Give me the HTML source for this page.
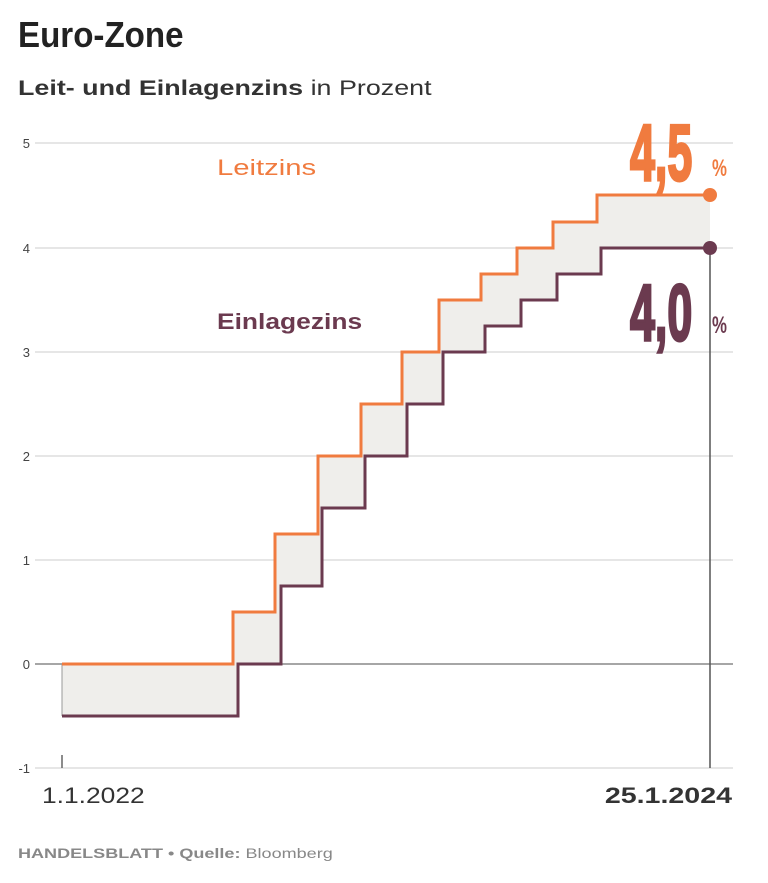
<!DOCTYPE html>
<html><head><meta charset="utf-8"><style>
body{margin:0;background:#fff;width:768px;height:878px;overflow:hidden;font-family:"Liberation Sans",sans-serif}
</style></head><body>
<svg width="768" height="878" xmlns="http://www.w3.org/2000/svg" font-family="Liberation Sans, sans-serif">
<text x="0" y="0" font-size="36" font-weight="bold" fill="#222" transform="translate(18,47) scale(0.92,1)">Euro-Zone</text>
<text x="0" y="0" font-size="21" fill="#333" transform="translate(18,95) scale(1.28,1)"><tspan font-weight="bold">Leit- und Einlagenzins</tspan> in Prozent</text>
<g stroke="#ddd" stroke-width="1.5">
<line x1="35" x2="733" y1="143" y2="143"/><line x1="35" x2="733" y1="248" y2="248"/>
<line x1="35" x2="733" y1="352" y2="352"/><line x1="35" x2="733" y1="456" y2="456"/>
<line x1="35" x2="733" y1="560" y2="560"/><line x1="35" x2="733" y1="768" y2="768"/>
</g>
<line x1="35" x2="733" y1="664" y2="664" stroke="#888" stroke-width="1.5"/>
<g font-size="13" fill="#444" text-anchor="end">
<text x="30" y="148">5</text><text x="30" y="253">4</text><text x="30" y="357">3</text><text x="30" y="461">2</text><text x="30" y="565">1</text><text x="30" y="669">0</text><text x="30" y="773">-1</text>
</g>
<polygon fill="#efeeeb" points="62,664 233,664 233,612 275,612 275,534 318,534 318,456 361,456 361,404 402,404 402,352 439,352 439,300 481,300 481,274 517,274 517,248 553,248 553,222 597,222 597,195 710,195 710,248 601,248 601,274 557,274 557,300 521,300 521,326 485,326 485,352 443,352 443,404 407,404 407,456 365,456 365,508 322,508 322,586 281,586 281,664 238,664 238,716 62,716"/>
<line x1="710" x2="710" y1="248" y2="768" stroke="#555" stroke-width="1.5"/>
<line x1="62" x2="62" y1="755" y2="768" stroke="#666" stroke-width="1.5"/>
<line x1="62" x2="62" y1="664" y2="716" stroke="#999" stroke-width="1"/>
<path fill="none" stroke="#f07b3f" stroke-width="3" d="M62,664 H233 V612 H275 V534 H318 V456 H361 V404 H402 V352 H439 V300 H481 V274 H517 V248 H553 V222 H597 V195 H710"/>
<path fill="none" stroke="#6b3a4f" stroke-width="3" d="M62,716 H238 V664 H281 V586 H322 V508 H365 V456 H407 V404 H443 V352 H485 V326 H521 V300 H557 V274 H601 V248 H710"/>
<circle cx="710" cy="195" r="7" fill="#f07b3f"/>
<circle cx="710" cy="248" r="7" fill="#6b3a4f"/>
<text x="0" y="0" font-size="22" fill="#f07b3f" transform="translate(217,175) scale(1.33,1)">Leitzins</text>
<text x="0" y="0" font-size="22" font-weight="bold" fill="#6b3a4f" transform="translate(217,329) scale(1.2,1)">Einlagezins</text>
<g transform="translate(630,180) scale(0.56,1)"><text x="0" y="0" font-size="80" font-weight="bold" fill="#f07b3f" stroke="#f07b3f" stroke-width="3">4,5</text></g>
<text x="0" y="0" font-size="24" font-weight="bold" fill="#f07b3f" transform="translate(712,176) scale(0.7,1)">%</text>
<g transform="translate(630,340) scale(0.56,1)"><text x="0" y="0" font-size="80" font-weight="bold" fill="#6b3a4f" stroke="#6b3a4f" stroke-width="3">4,0</text></g>
<text x="0" y="0" font-size="24" font-weight="bold" fill="#6b3a4f" transform="translate(712,333) scale(0.7,1)">%</text>
<text x="0" y="0" font-size="22" fill="#333" transform="translate(42,803) scale(1.2,1)">1.1.2022</text>
<text x="0" y="0" font-size="22" font-weight="bold" fill="#333" text-anchor="end" transform="translate(732,803) scale(1.3,1)">25.1.2024</text>
<text x="0" y="0" font-size="14" fill="#888" transform="translate(18,858) scale(1.29,1)"><tspan font-weight="bold">HANDELSBLATT • Quelle:</tspan> Bloomberg</text>
</svg>
</body></html>
